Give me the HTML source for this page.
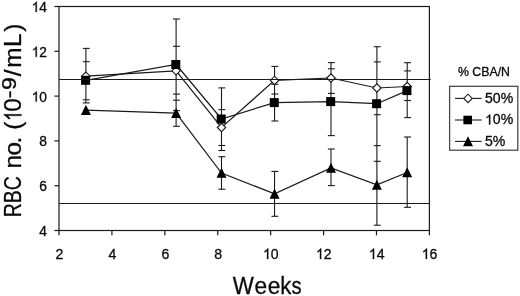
<!DOCTYPE html>
<html><head><meta charset="utf-8"><title>chart</title>
<style>html,body{margin:0;padding:0;background:#fff;width:520px;height:296px;overflow:hidden}</style>
</head><body>
<svg width="520" height="296" viewBox="0 0 520 296" style="position:absolute;left:0;top:0;will-change:transform">
<g stroke="#1a1a1a" stroke-width="1.2" fill="none">
<rect x="59.0" y="6.5" width="370.4" height="224.0"/>
<line x1="54.4" y1="230.50" x2="59.0" y2="230.50"/>
<line x1="54.4" y1="185.70" x2="59.0" y2="185.70"/>
<line x1="54.4" y1="140.90" x2="59.0" y2="140.90"/>
<line x1="54.4" y1="96.10" x2="59.0" y2="96.10"/>
<line x1="54.4" y1="51.30" x2="59.0" y2="51.30"/>
<line x1="54.4" y1="6.50" x2="59.0" y2="6.50"/>
<line x1="59.00" y1="230.5" x2="59.00" y2="235.3"/>
<line x1="111.91" y1="230.5" x2="111.91" y2="235.3"/>
<line x1="164.83" y1="230.5" x2="164.83" y2="235.3"/>
<line x1="217.74" y1="230.5" x2="217.74" y2="235.3"/>
<line x1="270.66" y1="230.5" x2="270.66" y2="235.3"/>
<line x1="323.57" y1="230.5" x2="323.57" y2="235.3"/>
<line x1="376.49" y1="230.5" x2="376.49" y2="235.3"/>
<line x1="429.40" y1="230.5" x2="429.40" y2="235.3"/>
<line x1="85.9" y1="48.4" x2="85.9" y2="102.9" stroke-width="1.1"/>
<line x1="82.80000000000001" y1="48.4" x2="89.7" y2="48.4" stroke-width="1.1"/>
<line x1="82.80000000000001" y1="61.7" x2="89.7" y2="61.7" stroke-width="1.1"/>
<line x1="82.80000000000001" y1="99.8" x2="89.7" y2="99.8" stroke-width="1.1"/>
<line x1="82.80000000000001" y1="102.9" x2="89.7" y2="102.9" stroke-width="1.1"/>
<line x1="176.1" y1="19.0" x2="176.1" y2="126.3" stroke-width="1.1"/>
<line x1="173.0" y1="19.0" x2="179.9" y2="19.0" stroke-width="1.1"/>
<line x1="173.0" y1="46.3" x2="179.9" y2="46.3" stroke-width="1.1"/>
<line x1="173.0" y1="94.1" x2="179.9" y2="94.1" stroke-width="1.1"/>
<line x1="173.0" y1="100.2" x2="179.9" y2="100.2" stroke-width="1.1"/>
<line x1="173.0" y1="110.6" x2="179.9" y2="110.6" stroke-width="1.1"/>
<line x1="173.0" y1="126.3" x2="179.9" y2="126.3" stroke-width="1.1"/>
<line x1="221.5" y1="87.9" x2="221.5" y2="150.5" stroke-width="1.1"/>
<line x1="221.5" y1="156.7" x2="221.5" y2="189.2" stroke-width="1.1"/>
<line x1="218.4" y1="87.9" x2="225.3" y2="87.9" stroke-width="1.1"/>
<line x1="218.4" y1="109.6" x2="225.3" y2="109.6" stroke-width="1.1"/>
<line x1="218.4" y1="145.5" x2="225.3" y2="145.5" stroke-width="1.1"/>
<line x1="218.4" y1="150.5" x2="225.3" y2="150.5" stroke-width="1.1"/>
<line x1="218.4" y1="156.7" x2="225.3" y2="156.7" stroke-width="1.1"/>
<line x1="218.4" y1="189.2" x2="225.3" y2="189.2" stroke-width="1.1"/>
<line x1="274.55" y1="66.4" x2="274.55" y2="121.0" stroke-width="1.1"/>
<line x1="274.55" y1="171.4" x2="274.55" y2="216.3" stroke-width="1.1"/>
<line x1="271.45" y1="66.4" x2="278.35" y2="66.4" stroke-width="1.1"/>
<line x1="271.45" y1="84.3" x2="278.35" y2="84.3" stroke-width="1.1"/>
<line x1="271.45" y1="94.0" x2="278.35" y2="94.0" stroke-width="1.1"/>
<line x1="271.45" y1="121.0" x2="278.35" y2="121.0" stroke-width="1.1"/>
<line x1="271.45" y1="171.4" x2="278.35" y2="171.4" stroke-width="1.1"/>
<line x1="271.45" y1="216.3" x2="278.35" y2="216.3" stroke-width="1.1"/>
<line x1="331.0" y1="62.6" x2="331.0" y2="135.6" stroke-width="1.1"/>
<line x1="331.0" y1="149.0" x2="331.0" y2="185.6" stroke-width="1.1"/>
<line x1="327.9" y1="62.6" x2="334.8" y2="62.6" stroke-width="1.1"/>
<line x1="327.9" y1="68.8" x2="334.8" y2="68.8" stroke-width="1.1"/>
<line x1="327.9" y1="93.4" x2="334.8" y2="93.4" stroke-width="1.1"/>
<line x1="327.9" y1="135.6" x2="334.8" y2="135.6" stroke-width="1.1"/>
<line x1="327.9" y1="149.0" x2="334.8" y2="149.0" stroke-width="1.1"/>
<line x1="327.9" y1="185.6" x2="334.8" y2="185.6" stroke-width="1.1"/>
<line x1="376.9" y1="46.7" x2="376.9" y2="225.2" stroke-width="1.1"/>
<line x1="373.79999999999995" y1="46.7" x2="380.7" y2="46.7" stroke-width="1.1"/>
<line x1="373.79999999999995" y1="61.9" x2="380.7" y2="61.9" stroke-width="1.1"/>
<line x1="373.79999999999995" y1="114.7" x2="380.7" y2="114.7" stroke-width="1.1"/>
<line x1="373.79999999999995" y1="145.6" x2="380.7" y2="145.6" stroke-width="1.1"/>
<line x1="373.79999999999995" y1="161.3" x2="380.7" y2="161.3" stroke-width="1.1"/>
<line x1="373.79999999999995" y1="225.2" x2="380.7" y2="225.2" stroke-width="1.1"/>
<line x1="407.2" y1="62.7" x2="407.2" y2="117.6" stroke-width="1.1"/>
<line x1="407.2" y1="137.0" x2="407.2" y2="207.3" stroke-width="1.1"/>
<line x1="404.09999999999997" y1="62.7" x2="411.0" y2="62.7" stroke-width="1.1"/>
<line x1="404.09999999999997" y1="70.9" x2="411.0" y2="70.9" stroke-width="1.1"/>
<line x1="404.09999999999997" y1="100.5" x2="411.0" y2="100.5" stroke-width="1.1"/>
<line x1="404.09999999999997" y1="117.6" x2="411.0" y2="117.6" stroke-width="1.1"/>
<line x1="404.09999999999997" y1="137.0" x2="411.0" y2="137.0" stroke-width="1.1"/>
<line x1="404.09999999999997" y1="207.3" x2="411.0" y2="207.3" stroke-width="1.1"/>
<polyline points="85.9,76.2 176.1,70.8 221.5,127.5 274.55,80.4 331.0,78.0 376.9,88.0 407.2,86.5"/>
<polyline points="85.9,80.3 176.1,64.5 221.5,119.0 274.55,102.6 331.0,101.6 376.9,103.7 407.2,90.6"/>
<polyline points="85.9,110.1 176.1,113.15 221.5,173.0 274.55,193.8 331.0,168.0 376.9,184.9 407.2,172.5"/>
</g>
<path d="M81.7,76.2 L85.9,72.0 L90.10000000000001,76.2 L85.9,80.4 Z" fill="#fff" stroke="#1a1a1a" stroke-width="1.1"/>
<path d="M171.9,70.8 L176.1,66.6 L180.29999999999998,70.8 L176.1,75.0 Z" fill="#fff" stroke="#1a1a1a" stroke-width="1.1"/>
<path d="M217.3,127.5 L221.5,123.3 L225.7,127.5 L221.5,131.7 Z" fill="#fff" stroke="#1a1a1a" stroke-width="1.1"/>
<path d="M270.35,80.4 L274.55,76.2 L278.75,80.4 L274.55,84.60000000000001 Z" fill="#fff" stroke="#1a1a1a" stroke-width="1.1"/>
<path d="M326.8,78.0 L331.0,73.8 L335.2,78.0 L331.0,82.2 Z" fill="#fff" stroke="#1a1a1a" stroke-width="1.1"/>
<path d="M372.7,88.0 L376.9,83.8 L381.09999999999997,88.0 L376.9,92.2 Z" fill="#fff" stroke="#1a1a1a" stroke-width="1.1"/>
<path d="M403.0,86.5 L407.2,82.3 L411.4,86.5 L407.2,90.7 Z" fill="#fff" stroke="#1a1a1a" stroke-width="1.1"/>
<rect x="81.10000000000001" y="75.8" width="9.0" height="9.0" fill="#000"/>
<rect x="171.29999999999998" y="60.0" width="9.0" height="9.0" fill="#000"/>
<rect x="216.7" y="114.5" width="9.0" height="9.0" fill="#000"/>
<rect x="269.75" y="98.1" width="9.0" height="9.0" fill="#000"/>
<rect x="326.2" y="97.1" width="9.0" height="9.0" fill="#000"/>
<rect x="372.09999999999997" y="99.2" width="9.0" height="9.0" fill="#000"/>
<rect x="402.4" y="86.1" width="9.0" height="9.0" fill="#000"/>
<path d="M85.9,104.85 L90.9,114.94999999999999 L80.9,114.94999999999999 Z" fill="#000"/>
<path d="M176.1,107.9 L181.1,118.0 L171.1,118.0 Z" fill="#000"/>
<path d="M221.5,167.75 L226.5,177.85 L216.5,177.85 Z" fill="#000"/>
<path d="M274.55,188.55 L279.55,198.65 L269.55,198.65 Z" fill="#000"/>
<path d="M331.0,162.75 L336.0,172.85 L326.0,172.85 Z" fill="#000"/>
<path d="M376.9,179.65 L381.9,189.75 L371.9,189.75 Z" fill="#000"/>
<path d="M407.2,167.25 L412.2,177.35 L402.2,177.35 Z" fill="#000"/>
<g stroke="#1a1a1a" stroke-width="1.15">
<line x1="59.0" y1="79.5" x2="430.7" y2="79.5"/>
<line x1="59.0" y1="203.5" x2="429.4" y2="203.5"/>
</g>
<rect x="449.6" y="86.3" width="68.2" height="63.9" fill="#fff" stroke="#444" stroke-width="1.25"/>
<g stroke="#1a1a1a" stroke-width="1.1">
<line x1="455" y1="98.4" x2="481.6" y2="98.4"/>
<line x1="455" y1="120" x2="481.6" y2="120"/>
<line x1="455" y1="141.4" x2="481.6" y2="141.4"/>
</g>
<path d="M463.8,98.4 L468,94.2 L472.2,98.4 L468,102.60000000000001 Z" fill="#fff" stroke="#1a1a1a" stroke-width="1.1"/>
<rect x="463.4" y="115.7" width="8.6" height="8.6" fill="#000"/>
<path d="M468,136.25 L473.0,146.35 L463.0,146.35 Z" fill="#000"/>
<g font-family="Liberation Sans, sans-serif" fill="#0a0a0a" stroke="#0a0a0a" stroke-width="0.3">
<g font-size="13.9" lengthAdjust="spacingAndGlyphs">
<text x="485" y="102.8" textLength="28.2" lengthAdjust="spacingAndGlyphs">50%</text>
<path transform="translate(485.00,124.40) scale(0.006885,-0.006787)" d="M763 0H583V1147Q518 1085 412.5 1023Q307 961 223 930V1104Q374 1175 487 1276Q600 1377 647 1472H763Z" vector-effect="non-scaling-stroke"/>
<text transform="translate(492.84,124.40) scale(1.014388489208633,1)" font-size="13.9">0%</text>
<text x="485" y="145.9" textLength="20.4" lengthAdjust="spacingAndGlyphs">5%</text>
</g>
<text x="458" y="76" font-size="12" textLength="52" lengthAdjust="spacingAndGlyphs">% CBA/N</text>
<text transform="translate(39.34,236.00) scale(0.97,1)" font-size="14.2">4</text>
<text transform="translate(39.34,191.20) scale(0.97,1)" font-size="14.2">6</text>
<text transform="translate(39.34,146.40) scale(0.97,1)" font-size="14.2">8</text>
<path transform="translate(31.68,101.60) scale(0.006726,-0.006934)" d="M763 0H583V1147Q518 1085 412.5 1023Q307 961 223 930V1104Q374 1175 487 1276Q600 1377 647 1472H763Z" vector-effect="non-scaling-stroke"/>
<text transform="translate(39.34,101.60) scale(0.97,1)" font-size="14.2">0</text>
<path transform="translate(31.68,56.80) scale(0.006726,-0.006934)" d="M763 0H583V1147Q518 1085 412.5 1023Q307 961 223 930V1104Q374 1175 487 1276Q600 1377 647 1472H763Z" vector-effect="non-scaling-stroke"/>
<text transform="translate(39.34,56.80) scale(0.97,1)" font-size="14.2">2</text>
<path transform="translate(31.68,12.00) scale(0.006726,-0.006934)" d="M763 0H583V1147Q518 1085 412.5 1023Q307 961 223 930V1104Q374 1175 487 1276Q600 1377 647 1472H763Z" vector-effect="non-scaling-stroke"/>
<text transform="translate(39.34,12.00) scale(0.97,1)" font-size="14.2">4</text>
<text transform="translate(55.58,259.00) scale(0.96,1)" font-size="14.7">2</text>
<text transform="translate(108.49,259.00) scale(0.96,1)" font-size="14.7">4</text>
<text transform="translate(161.41,259.00) scale(0.96,1)" font-size="14.7">6</text>
<text transform="translate(214.32,259.00) scale(0.96,1)" font-size="14.7">8</text>
<path transform="translate(263.01,259.00) scale(0.006891,-0.007178)" d="M763 0H583V1147Q518 1085 412.5 1023Q307 961 223 930V1104Q374 1175 487 1276Q600 1377 647 1472H763Z" vector-effect="non-scaling-stroke"/>
<text transform="translate(270.86,259.00) scale(0.96,1)" font-size="14.7">0</text>
<path transform="translate(315.93,259.00) scale(0.006891,-0.007178)" d="M763 0H583V1147Q518 1085 412.5 1023Q307 961 223 930V1104Q374 1175 487 1276Q600 1377 647 1472H763Z" vector-effect="non-scaling-stroke"/>
<text transform="translate(323.77,259.00) scale(0.96,1)" font-size="14.7">2</text>
<path transform="translate(368.84,259.00) scale(0.006891,-0.007178)" d="M763 0H583V1147Q518 1085 412.5 1023Q307 961 223 930V1104Q374 1175 487 1276Q600 1377 647 1472H763Z" vector-effect="non-scaling-stroke"/>
<text transform="translate(376.69,259.00) scale(0.96,1)" font-size="14.7">4</text>
<path transform="translate(421.75,259.00) scale(0.006891,-0.007178)" d="M763 0H583V1147Q518 1085 412.5 1023Q307 961 223 930V1104Q374 1175 487 1276Q600 1377 647 1472H763Z" vector-effect="non-scaling-stroke"/>
<text transform="translate(429.60,259.00) scale(0.96,1)" font-size="14.7">6</text>
<text transform="translate(232.8,294.0) scale(0.915,1)" font-size="24.4">W</text>
<text transform="translate(254.55,294.0) scale(0.93,1)" font-size="24.4">e</text>
<text transform="translate(267.65,294.0) scale(0.93,1)" font-size="24.4">e</text>
<text transform="translate(280.35,294.0) scale(0.91,1)" font-size="24.4">k</text>
<text transform="translate(291.4,294.0) scale(0.83,1)" font-size="24.4">s</text>
<path transform="translate(21.4,120.9) rotate(-90) scale(0.008662,-0.011865)" d="M763 0H583V1147Q518 1085 412.5 1023Q307 961 223 930V1104Q374 1175 487 1276Q600 1377 647 1472H763Z" vector-effect="non-scaling-stroke"/>
<text transform="translate(16.1,98.3) rotate(-90) scale(1.1,1)" font-size="21">-</text>
<text transform="translate(16.1,89.9) rotate(-90) scale(1.1,1)" font-size="21">9</text>
<text transform="translate(21.4,217.2) rotate(-90) scale(0.8,1)" font-size="24.3">RBC</text>
<text transform="translate(21.4,168.4) rotate(-90) scale(1.0,1)" font-size="24.3" x="0 12.9 24.8">no.</text>
<text transform="translate(21.4,129.0) rotate(-90) scale(1.0,1)" font-size="24.3" x="-0.8">(</text>
<text transform="translate(21.4,129.0) rotate(-90) scale(1.0,1)" font-size="24.3" x="17.3">0</text>
<text transform="translate(21.4,129.0) rotate(-90) scale(1.0,1)" font-size="24.3" x="52.7 61.2 82.1 97.2">/mL)</text>
</g>
</svg>
</body></html>
